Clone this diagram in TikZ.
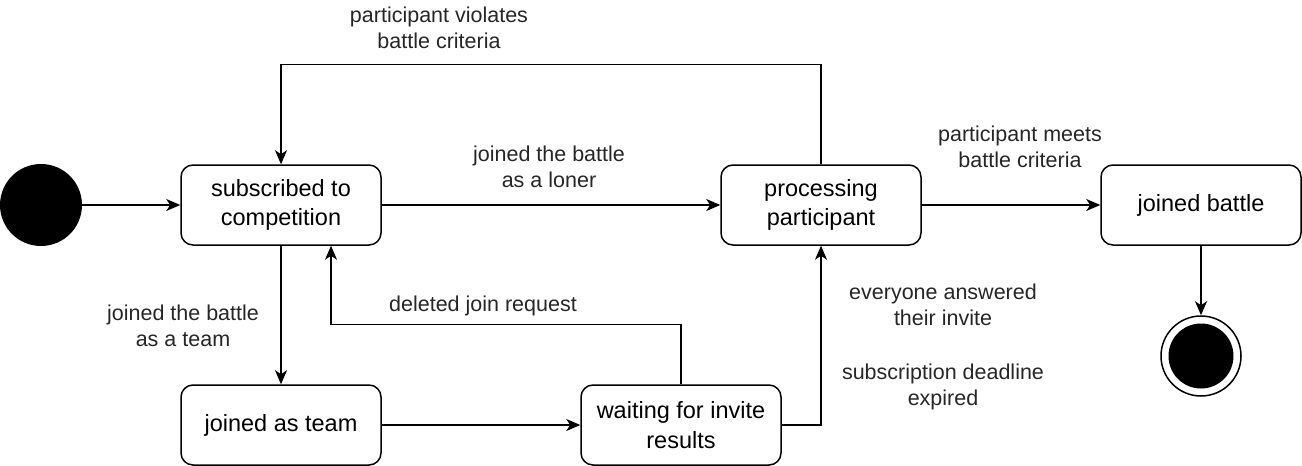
\documentclass[tikz,border=0pt]{standalone}
\usepackage{fontspec}
\setmainfont{Liberation Sans}
\usetikzlibrary{arrows.meta}

\begin{document}
\begin{tikzpicture}[x=1pt,y=-1pt,
  state/.style={draw, line width=1.5pt, rounded corners=12pt, minimum width=200pt,
    minimum height=80pt, inner sep=0pt, align=center, font=\fontsize{23.5}{29.5}\selectfont},
  lbl/.style={align=center, font=\fontsize{21.5}{26.5}\selectfont, text=black!85},
  arr/.style={line width=1.5pt, -{Stealth[length=14pt,width=12pt,inset=4pt]}}]
\useasboundingbox (0,0) rectangle (1302,466);

% states
\node[circle, fill=black, minimum size=82pt, inner sep=0pt] (start) at (41,205) {};
\node[state] (sub) at (281,205) {subscribed to\\competition};
\node[state] (proc) at (821,205) {processing\\participant};
\node[state] (joined) at (1201,205) {joined battle};
\node[state] (team) at (281,425) {joined as team};
\node[state] (wait) at (681,425) {waiting for invite\\results};
\node[circle, draw, line width=1.5pt, minimum size=80pt, inner sep=0pt] (stop) at (1201,356) {};
\fill (stop.center) circle (32.5);

% transitions
\draw[arr] (start) -- (sub);
\draw[arr] (sub) -- (proc);
\draw[arr] (proc) -- (joined);
\draw[arr] (proc.north) -- ++(0,-100) -| (sub.north);
\draw[arr] (sub.south) -- (team.north);
\draw[arr] (team) -- (wait);
\draw[arr] (wait.north) -- ++(0,-60) -| ([xshift=50pt]sub.south);
\draw[arr] (wait.east) -| (proc.south);
\draw[arr] (joined.south) -- (stop.north);

% labels
\node[lbl] (l1) at (439,28) {participant violates\\battle criteria};
\node[lbl] (l2) at (549,167) {joined the battle\\as a loner};
\node[lbl] (l3) at (1020,147) {participant meets\\battle criteria};
\node[lbl] (l4) at (183,326) {joined the battle\\as a team};
\node[lbl] (l5) at (483,306) {deleted join request};
\node[lbl] (l6) at (943,305) {everyone answered\\their invite};
\node[lbl] (l7) at (943,387) {subscription deadline\\expired};
\end{tikzpicture}
\end{document}
